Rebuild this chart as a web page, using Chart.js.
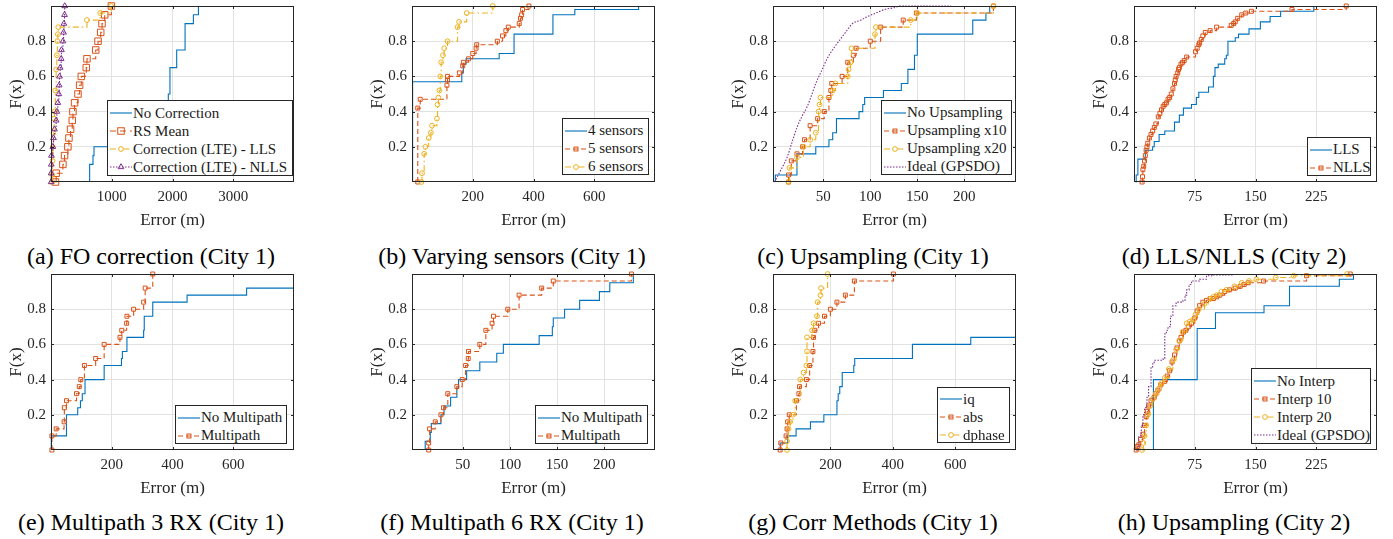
<!DOCTYPE html>
<html>
<head>
<meta charset="utf-8">
<script src="https://cdn.jsdelivr.net/npm/chart.js@4.4.0/dist/chart.umd.min.js"></script>
<style>
body { margin: 0; background: #fff; width: 1393px; height: 539px; position: relative; overflow: hidden; font-family: "Liberation Serif", serif; }
canvas { position: absolute; }
.cap { position: absolute; font-size: 24px; line-height: 1; color: #000; white-space: nowrap; transform: translate(-50%, -50%); }
.leg { position: absolute; background: #fff; border: 1px solid #262626; box-sizing: border-box; font-size: 15px; color: #1a1a1a; }
.leg .row { display: flex; align-items: center; height: 18px; white-space: nowrap; }
.leg svg { margin: 0 1px 0 2px; flex: none; }
</style>
</head>
<body>
<script>
// ---- data: step points of each empirical CDF (error in m, F(x)) ----

// (a) FO correction (City 1)
var aTicks = [1000, 2000, 3000];
var aNoCorrX = [636, 636, 691, 708, 1900, 1931, 1958, 2069, 2207, 2344, 2427];
var aNoCorrF = [0, 0.10, 0.15, 0.20, 0.30, 0.50, 0.65, 0.75, 0.90, 0.95, 1.0];
var aRsMeanX = [74, 85, 196, 223, 278, 295, 322, 350, 361, 388, 444, 471, 499, 581, 592, 736, 774, 818, 840, 884, 994];
var aRsMeanF = [0, 0.05, 0.10, 0.15, 0.20, 0.25, 0.30, 0.35, 0.40, 0.45, 0.50, 0.55, 0.60, 0.65, 0.70, 0.75, 0.80, 0.85, 0.90, 0.95, 1.0];
var aLlsX = [19, 19, 25, 30, 40, 50, 58, 70, 85, 96, 105, 113, 120, 592, 810, 990];
var aLlsF = [0, 0.04, 0.12, 0.20, 0.28, 0.36, 0.40, 0.52, 0.64, 0.72, 0.80, 0.84, 0.88, 0.92, 0.96, 1.0];
var aNllsX = [2, 2, 5, 8, 30, 41, 58, 85, 96, 113, 129, 135, 140, 151, 168, 172, 196, 207, 212, 223, 226];
var aNllsF = [0, 0.05, 0.10, 0.15, 0.20, 0.25, 0.30, 0.35, 0.40, 0.45, 0.50, 0.55, 0.60, 0.65, 0.70, 0.75, 0.80, 0.85, 0.90, 0.95, 1.0];

// (b) Varying sensors (City 1)
var bTicks = [200, 400, 600];
var b4X = [2, 2, 164, 169, 178, 287, 336, 464, 536, 746];
var b4F = [0, 0.57, 0.62, 0.67, 0.70, 0.73, 0.84, 0.95, 0.98, 1.0];
var b5X = [19, 19, 27, 115, 117, 117, 156, 167, 169, 186, 200, 211, 213, 281, 298, 309, 317, 353, 357, 361, 364, 385];
var b5F = [0, 0.42, 0.47, 0.55, 0.58, 0.60, 0.62, 0.66, 0.68, 0.70, 0.73, 0.76, 0.78, 0.80, 0.83, 0.86, 0.88, 0.90, 0.93, 0.95, 0.98, 1.0];
var b6X = [31, 33, 40, 44, 55, 62, 66, 82, 84, 87, 90, 93, 96, 102, 106, 117, 150, 155, 180, 266];
var b6F = [0, 0.05, 0.16, 0.20, 0.25, 0.28, 0.32, 0.36, 0.44, 0.48, 0.52, 0.60, 0.68, 0.72, 0.76, 0.80, 0.88, 0.91, 0.96, 1.0];

// (c) Upsampling (City 1)
var cTicks = [50, 100, 150, 200];
var cNoUpX = [-1, -1, 22, 42, 56, 60, 64, 88, 92, 94, 114, 133, 140, 147, 150, 209, 223, 227];
var cNoUpF = [0, 0.04, 0.16, 0.20, 0.24, 0.28, 0.36, 0.40, 0.44, 0.48, 0.52, 0.56, 0.64, 0.72, 0.84, 0.92, 0.96, 1.0];
var cUp10X = [13, 13, 16, 22, 28, 30, 36, 44, 51, 56, 58, 59, 70, 76, 82, 85, 100, 111, 135, 149, 231];
var cUp10F = [0, 0.04, 0.12, 0.16, 0.20, 0.24, 0.32, 0.36, 0.40, 0.48, 0.52, 0.56, 0.60, 0.68, 0.72, 0.76, 0.80, 0.88, 0.92, 0.96, 1.0];
var cUp20X = [13, 14, 22, 29, 36, 42, 45, 46, 47, 60, 63, 76, 77, 79, 80, 105, 106, 143, 150, 231];
var cUp20F = [0, 0.08, 0.14, 0.20, 0.24, 0.28, 0.40, 0.44, 0.48, 0.52, 0.56, 0.60, 0.64, 0.68, 0.76, 0.84, 0.88, 0.92, 0.96, 1.0];
var cIdealX = [-2, 5, 11.5, 17, 22, 27, 33, 38, 42, 48, 54, 61, 68, 75, 81, 90, 97, 106, 115, 125, 132, 150, 186];
var cIdealF = [0, 0.07, 0.14, 0.23, 0.31, 0.37, 0.43, 0.50, 0.56, 0.63, 0.70, 0.76, 0.81, 0.86, 0.90, 0.92, 0.94, 0.96, 0.98, 0.99, 1.0, 1.0, 1.0];

// (d) LLS/NLLS (City 2)
var dTicks = [75, 150, 225];
var dLlsX = [1.9, 2.7, 4.8, 14, 23, 25, 31, 38, 50, 56, 61, 71, 77, 80, 92, 98, 100, 104, 112, 114, 116, 125, 129, 142, 156, 168, 181, 222];
var dLlsF = [0, 0.04, 0.13, 0.18, 0.20, 0.23, 0.27, 0.29, 0.34, 0.38, 0.42, 0.44, 0.48, 0.51, 0.54, 0.60, 0.65, 0.67, 0.70, 0.72, 0.80, 0.82, 0.84, 0.87, 0.91, 0.94, 0.97, 1.0];
var dNllsX = [10, 10.5, 11, 12, 13, 14, 15, 16, 17, 19, 21, 23, 25, 27, 30, 32, 34, 36, 38, 40, 42, 44, 46, 48, 50, 51, 52, 54, 55, 56, 58, 60, 62, 65, 76, 78, 80, 81, 83, 85, 88, 94, 102, 120, 123, 125, 128, 133, 138, 145, 195, 262];
var dNllsF = [0, 0.03, 0.07, 0.09, 0.12, 0.15, 0.18, 0.20, 0.22, 0.25, 0.27, 0.29, 0.31, 0.33, 0.37, 0.39, 0.41, 0.43, 0.44, 0.45, 0.47, 0.48, 0.50, 0.53, 0.56, 0.58, 0.60, 0.62, 0.64, 0.65, 0.67, 0.68, 0.69, 0.71, 0.74, 0.76, 0.78, 0.79, 0.81, 0.83, 0.85, 0.86, 0.88, 0.89, 0.90, 0.91, 0.93, 0.95, 0.96, 0.97, 0.98, 1.0];

// (e) Multipath 3 RX (City 1)
var eTicks = [200, 400, 600];
var eNoMpX = [1, 1, 51, 88, 97, 103, 112, 175, 232, 235, 250, 305, 307, 335, 448, 644, 800];
var eNoMpF = [0, 0.08, 0.20, 0.24, 0.28, 0.32, 0.40, 0.48, 0.52, 0.56, 0.64, 0.68, 0.76, 0.84, 0.88, 0.92, 0.92];
var eMpX = [3, 3, 17, 43, 44, 51, 84, 93, 98, 110, 147, 175, 227, 233, 249, 250, 272, 305, 310, 335];
var eMpF = [0, 0.08, 0.12, 0.16, 0.24, 0.28, 0.32, 0.36, 0.40, 0.48, 0.52, 0.60, 0.64, 0.68, 0.72, 0.76, 0.80, 0.84, 0.92, 1.0];

// (f) Multipath 6 RX (City 1)
var fTicks = [50, 100, 150, 200];
var fNoMpX = [10, 10, 15.4, 16.5, 26.7, 30, 37, 43.6, 45.4, 54, 68, 86, 93, 131, 145, 146, 158, 174, 195, 206, 231];
var fNoMpF = [0, 0.05, 0.10, 0.15, 0.20, 0.25, 0.30, 0.35, 0.40, 0.45, 0.50, 0.55, 0.60, 0.65, 0.70, 0.75, 0.80, 0.85, 0.90, 0.95, 1.0];
var fMpX = [13.7, 13.7, 14.7, 20.7, 26.7, 29.5, 34, 43.6, 49.3, 52.9, 55.7, 56, 68, 74.4, 81, 82.5, 97.7, 109.7, 133.7, 146, 229];
var fMpF = [0, 0.04, 0.12, 0.16, 0.20, 0.24, 0.32, 0.36, 0.40, 0.48, 0.52, 0.56, 0.60, 0.68, 0.72, 0.76, 0.80, 0.88, 0.92, 0.96, 1.0];

// (g) Corr Methods (City 1)
var gTicks = [200, 400, 600];
var gIqX = [39, 39, 63, 90, 136, 179, 221, 225, 230, 238, 275, 278, 463, 650, 795];
var gIqF = [0, 0.04, 0.08, 0.12, 0.16, 0.20, 0.28, 0.32, 0.36, 0.44, 0.48, 0.52, 0.60, 0.64, 0.64];
var gAbsX = [39, 41, 58, 61, 63, 68, 91, 99, 101, 123, 133.5, 144, 146, 150, 162, 181, 200, 221, 248, 277, 402];
var gAbsF = [0, 0.04, 0.08, 0.12, 0.16, 0.20, 0.28, 0.32, 0.36, 0.40, 0.48, 0.56, 0.64, 0.68, 0.72, 0.76, 0.80, 0.84, 0.88, 0.96, 1.0];
var gDphX = [61, 61, 66, 71, 80, 87, 103.5, 114, 123, 125, 125, 141, 146, 157, 159, 168, 170, 191];
var gDphF = [0, 0.05, 0.12, 0.16, 0.20, 0.28, 0.40, 0.44, 0.48, 0.56, 0.64, 0.68, 0.72, 0.76, 0.84, 0.88, 0.92, 1.0];

// (h) Upsampling (City 2)
var hTicks = [75, 150, 225];
var hNoX = [24, 24, 78, 100.6, 160.5, 192, 253.5, 271];
var hNoF = [0, 0.40, 0.69, 0.78, 0.82, 0.93, 0.97, 1.0];
var hI10X = [2.7, 4, 6, 8, 11, 13, 15, 16.5, 18, 21, 25, 27, 29.5, 33, 38, 41, 44, 47, 50, 53, 56, 58, 61, 64, 67, 71, 75, 78, 81, 85, 89.5, 94, 98, 102, 106, 112, 118, 125, 131, 136, 141, 160, 213, 267];
var hI10F = [0, 0.02, 0.03, 0.06, 0.09, 0.14, 0.19, 0.22, 0.25, 0.28, 0.30, 0.32, 0.34, 0.37, 0.39, 0.42, 0.45, 0.50, 0.54, 0.58, 0.62, 0.64, 0.67, 0.68, 0.70, 0.72, 0.75, 0.79, 0.82, 0.84, 0.85, 0.86, 0.86, 0.87, 0.88, 0.90, 0.91, 0.92, 0.93, 0.94, 0.95, 0.96, 0.99, 1.0];
var hI20X = [10, 11.5, 13, 15, 17, 20, 23, 27, 31, 34, 38, 43, 48, 52, 56, 60, 65, 69, 73, 76, 80, 87, 94, 98, 102, 108, 114, 124, 133, 142, 151, 175, 197, 263];
var hI20F = [0, 0.04, 0.08, 0.14, 0.20, 0.25, 0.29, 0.32, 0.35, 0.38, 0.41, 0.46, 0.51, 0.57, 0.62, 0.67, 0.72, 0.73, 0.74, 0.77, 0.80, 0.83, 0.86, 0.87, 0.88, 0.90, 0.91, 0.93, 0.95, 0.96, 0.97, 0.98, 0.99, 1.0];
var hIdealX = [2.7, 6, 9, 11, 13, 16, 18, 21, 23, 25, 36, 38, 40, 42, 45, 48, 52, 60.5, 63, 65, 68, 71, 81, 89.5, 98, 122];
var hIdealF = [0, 0.08, 0.14, 0.20, 0.24, 0.30, 0.36, 0.47, 0.49, 0.51, 0.52, 0.66, 0.68, 0.70, 0.76, 0.82, 0.84, 0.85, 0.88, 0.91, 0.94, 0.96, 0.97, 0.99, 0.995, 1.0];

var yTicks = [0.2, 0.4, 0.6, 0.8];

// ---- styles (matlab default colour order) ----
var colBlue = '#0072BD', colRed = '#D95319', colYellow = '#EDB120', colPurple = '#7E2F8E';
var styles = {
    blue:      { color: colBlue,   dash: [],             point: false },
    red:       { color: colRed,    dash: [5, 3],         point: 'rect', r: 2.8 },
    redBig:    { color: colRed,    dash: [6, 4],         point: 'rect', r: 4.6 },
    yellow:    { color: colYellow, dash: [6, 3, 1.5, 3], point: 'circle', r: 2.4 },
    purple:    { color: colPurple, dash: [1.5, 1.5],     point: false },
    purpleTri: { color: colPurple, dash: [1.5, 1.5],     point: 'triangle', r: 3.3 },
    purpleSmooth: { color: colPurple, dash: [1.5, 1.5],  point: false, smooth: true }
};

var panels = [
    { left: 51, top: 6, xmin: 0, xmax: 4000, ticks: aTicks, caption: '(a) FO correction (City 1)', legend: [107, 100, 186, 76],
      series: [['No Correction', aNoCorrX, aNoCorrF, 'blue'], ['RS Mean', aRsMeanX, aRsMeanF, 'redBig'],
               ['Correction (LTE) - LLS', aLlsX, aLlsF, 'yellow'], ['Correction (LTE) - NLLS', aNllsX, aNllsF, 'purpleTri']] },
    { left: 412, top: 6, xmin: 0, xmax: 800, ticks: bTicks, caption: '(b) Varying sensors (City 1)', legend: [562, 118, 87, 57],
      series: [['4 sensors', b4X, b4F, 'blue'], ['5 sensors', b5X, b5F, 'red'], ['6 sensors', b6X, b6F, 'yellow']] },
    { left: 773, top: 6, xmin: -3.5, xmax: 255, ticks: cTicks, caption: '(c) Upsampling (City 1)', legend: [881, 100, 131, 75],
      series: [['No Upsampling', cNoUpX, cNoUpF, 'blue'], ['Upsampling x10', cUp10X, cUp10F, 'red'],
               ['Upsampling x20', cUp20X, cUp20F, 'yellow'], ['Ideal (GPSDO)', cIdealX, cIdealF, 'purpleSmooth']] },
    { left: 1134, top: 6, xmin: 0, xmax: 300, ticks: dTicks, caption: '(d) LLS/NLLS (City 2)', legend: [1307, 137, 64, 39],
      series: [['LLS', dLlsX, dLlsF, 'blue'], ['NLLS', dNllsX, dNllsF, 'red']] },
    { left: 51, top: 274, xmin: 0, xmax: 800, ticks: eTicks, caption: '(e) Multipath 3 RX (City 1)', legend: [175, 405, 112, 39],
      series: [['No Multipath', eNoMpX, eNoMpF, 'blue'], ['Multipath', eMpX, eMpF, 'red']] },
    { left: 412, top: 274, xmin: -4, xmax: 254, ticks: fTicks, caption: '(f) Multipath 6 RX (City 1)', legend: [535, 405, 113, 39],
      series: [['No Multipath', fNoMpX, fNoMpF, 'blue'], ['Multipath', fMpX, fMpF, 'red']] },
    { left: 773, top: 274, xmin: 16, xmax: 795, ticks: gTicks, caption: '(g) Corr Methods (City 1)', legend: [937, 387, 73, 56],
      series: [['iq', gIqX, gIqF, 'blue'], ['abs', gAbsX, gAbsF, 'red'], ['dphase', gDphX, gDphF, 'yellow']] },
    { left: 1134, top: 274, xmin: 0, xmax: 300, ticks: hTicks, caption: '(h) Upsampling (City 2)', legend: [1251, 368, 120, 76],
      series: [['No Interp', hNoX, hNoF, 'blue'], ['Interp 10', hI10X, hI10F, 'red'],
               ['Interp 20', hI20X, hI20F, 'yellow'], ['Ideal (GPSDO)', hIdealX, hIdealF, 'purple']] }
];

var PLOT_W = 243, PLOT_H = 176, AXIS_W = 50, AXIS_H = 49, PAD_T = 6, PAD_R = 8;
var axisCol = '#262626', gridCol = '#e2e2e2';

Chart.defaults.font.family = '"Liberation Serif", serif';

// matlab style box with inward ticks on all four sides
var boxPlugin = {
    id: 'box',
    afterDatasetsDraw: function(chart) {
        var ca = chart.chartArea, ctx = chart.ctx;
        var xs = chart.scales.x, ys = chart.scales.y;
        ctx.save();
        ctx.strokeStyle = axisCol;
        ctx.lineWidth = 1;
        ctx.strokeRect(Math.round(ca.left) + 0.5, Math.round(ca.top) + 0.5,
                       Math.round(ca.right - ca.left) - 1, Math.round(ca.bottom - ca.top) - 1);
        ctx.beginPath();
        xs.ticks.forEach(function(t) {
            var px = Math.round(xs.getPixelForValue(t.value)) + 0.5;
            ctx.moveTo(px, ca.bottom); ctx.lineTo(px, ca.bottom - 3);
            ctx.moveTo(px, ca.top); ctx.lineTo(px, ca.top + 3);
        });
        ys.ticks.forEach(function(t) {
            var py = Math.round(ys.getPixelForValue(t.value)) + 0.5;
            ctx.moveTo(ca.left, py); ctx.lineTo(ca.left + 3, py);
            ctx.moveTo(ca.right, py); ctx.lineTo(ca.right - 3, py);
        });
        ctx.stroke();
        ctx.restore();
    }
};

function markerSvg(st) {
    var s = '<svg width="22" height="12"><line x1="0" y1="6" x2="22" y2="6" stroke="' + st.color +
            '" stroke-width="1.1" stroke-dasharray="' + (st.dash.length ? st.dash.join(',') : 'none') + '"/>';
    if (st.point === 'rect') {
        var a = st.r * Math.SQRT2;
        s += '<rect x="' + (11 - a / 2) + '" y="' + (6 - a / 2) + '" width="' + a + '" height="' + a +
             '" fill="none" stroke="' + st.color + '"/>';
    } else if (st.point === 'circle') {
        s += '<circle cx="11" cy="6" r="' + st.r + '" fill="#fff" stroke="' + st.color + '"/>';
    } else if (st.point === 'triangle') {
        var r = st.r;
        s += '<polygon points="11,' + (6 - r) + ' ' + (11 - r * 0.87) + ',' + (6 + r / 2) + ' ' + (11 + r * 0.87) + ',' +
             (6 + r / 2) + '" fill="none" stroke="' + st.color + '"/>';
    }
    return s + '</svg>';
}

panels.forEach(function(p) {
    var cv = document.createElement('canvas');
    cv.width = AXIS_W + PLOT_W + PAD_R;
    cv.height = PAD_T + PLOT_H + AXIS_H;
    cv.style.left = (p.left - AXIS_W) + 'px';
    cv.style.top = (p.top - PAD_T) + 'px';
    document.body.appendChild(cv);

    var n = p.series.length;
    var datasets = p.series.map(function(s, i) {
        var st = styles[s[3]];
        return {
            label: s[0],
            data: s[1].map(function(x, k) { return { x: x, y: s[2][k] }; }),
            borderColor: st.color,
            borderWidth: 1.1,
            borderDash: st.dash,
            stepped: st.smooth ? false : true,
            cubicInterpolationMode: st.smooth ? 'monotone' : 'default',
            pointRadius: st.point ? st.r : 0,
            pointStyle: st.point || 'circle',
            pointBorderColor: st.color,
            pointBackgroundColor: 'rgba(0,0,0,0)',
            pointBorderWidth: 1,
            fill: false,
            clip: false,
            order: n - i
        };
    });

    new Chart(cv, {
        type: 'line',
        data: { datasets: datasets },
        options: {
            responsive: false,
            animation: false,
            devicePixelRatio: 1,
            layout: { padding: { top: PAD_T, right: PAD_R, left: 0, bottom: 0 } },
            plugins: { legend: { display: false }, tooltip: { enabled: false } },
            scales: {
                x: {
                    type: 'linear', min: p.xmin, max: p.xmax,
                    afterBuildTicks: function(sc) { sc.ticks = p.ticks.map(function(v) { return { value: v }; }); },
                    afterFit: function(sc) { sc.height = AXIS_H; sc.paddingLeft = 0; sc.paddingRight = 0; },
                    grid: { color: gridCol, drawTicks: false },
                    border: { display: false },
                    ticks: { color: axisCol, font: { size: 15 }, padding: 6, maxRotation: 0, autoSkip: false,
                             callback: function(v) { return String(v); } },
                    title: { display: true, text: 'Error (m)', color: axisCol, font: { size: 17 }, padding: 0 }
                },
                y: {
                    type: 'linear', min: 0, max: 1,
                    afterBuildTicks: function(sc) { sc.ticks = yTicks.map(function(v) { return { value: v }; }); },
                    afterFit: function(sc) { sc.width = AXIS_W; sc.paddingTop = 0; sc.paddingBottom = 0; },
                    grid: { color: gridCol, drawTicks: false },
                    border: { display: false },
                    ticks: { color: axisCol, font: { size: 15 }, padding: 5,
                             callback: function(v) { return v.toFixed(1); } },
                    title: { display: true, text: 'F(x)', color: axisCol, font: { size: 17 }, padding: { top: 5, bottom: 0 } }
                }
            }
        },
        plugins: [boxPlugin]
    });

    // legend box inside the axes, lower right
    var lg = p.legend;
    var leg = document.createElement('div');
    leg.className = 'leg';
    leg.style.left = lg[0] + 'px';
    leg.style.top = lg[1] + 'px';
    leg.style.width = lg[2] + 'px';
    leg.style.height = lg[3] + 'px';
    leg.style.paddingTop = Math.max(1, (lg[3] - 2 - n * 18) / 2 + 2) + 'px';
    p.series.forEach(function(s) {
        var row = document.createElement('div');
        row.className = 'row';
        row.innerHTML = markerSvg(styles[s[3]]) + '<span>' + s[0] + '</span>';
        leg.appendChild(row);
    });
    document.body.appendChild(leg);

    var cap = document.createElement('div');
    cap.className = 'cap';
    cap.textContent = p.caption;
    cap.style.left = (p.left + 100) + 'px';
    cap.style.top = (p.top === 6 ? 256 : 522) + 'px';
    document.body.appendChild(cap);
});
</script>
</body>
</html>
